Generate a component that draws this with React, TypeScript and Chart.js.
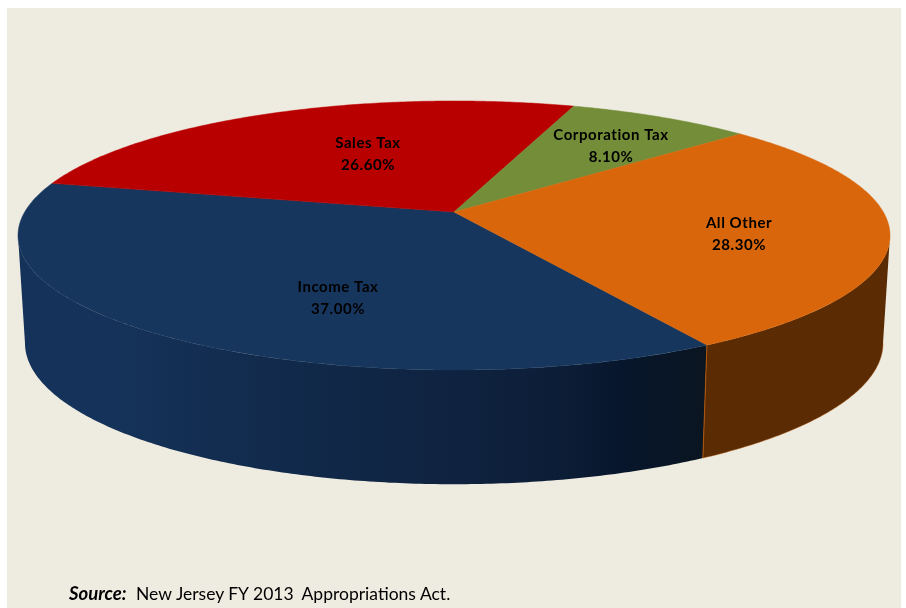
import React, { useEffect, useRef } from "react";
import { Chart, registerables } from "chart.js";

Chart.register(...registerables);

// Revenue shares, in percent
const categories = ["Income Tax", "Sales Tax", "Corporation Tax", "All Other"];
const shares = [37.0, 26.6, 8.1, 28.3];

const faceColors = ["#17365D", "#B90000", "#738D38", "#D9660A"];
const wallColors = ["#15335A", "#6E0000", "#46571F", "#5B2B03"];

// Where each two-line label is centred on the canvas
const labelCentres = [
  [338, 298],
  [368, 154],
  [611, 146],
  [739, 234],
];

const START_ROTATION = 150;
const PANEL = { left: 7, top: 8, right: 901, bottom: 608, color: "#EEEBE0" };

// Tilted disc: a unit circle projected with a simple perspective divide
const DISC = { cx: 454, cy: 212, a: 429.3, b: 130.4, p: 0.1747 };
// The lower rim sits a fixed drop below the face and narrows slightly
const RIM = { drop: 107.5, pivotY: 235.5, narrow: 0.984, stretch: 0.05 };

const TOP_POINT = (angle: number) => {
  const u = Math.cos(angle);
  const v = Math.sin(angle);
  const w = 1 - DISC.p * v;
  return [DISC.cx + (DISC.a * u) / w, DISC.cy + (DISC.b * v) / w];
};

const RIM_POINT = (angle: number) => {
  const [x, y] = TOP_POINT(angle);
  return [
    DISC.cx + (x - DISC.cx) * RIM.narrow,
    y + RIM.drop + (y - RIM.pivotY) * RIM.stretch,
  ];
};

const anglesBetween = (from: number, to: number) => {
  const steps = Math.max(2, Math.ceil((to - from) / 0.01));
  const list: number[] = [];
  for (let i = 0; i <= steps; i++) list.push(from + ((to - from) * i) / steps);
  return list;
};

const tiltedPie = {
  id: "tiltedPie",
  beforeDraw(chart: any) {
    const { ctx } = chart;
    ctx.save();
    ctx.fillStyle = PANEL.color;
    ctx.fillRect(PANEL.left, PANEL.top, PANEL.right - PANEL.left, PANEL.bottom - PANEL.top);
    ctx.restore();
  },
  // The arcs are painted here, using the angles the pie controller worked out
  beforeDatasetDraw(chart: any, args: any) {
    const { ctx } = chart;
    const arcs = args.meta.data;
    const wallFrom = (10 * Math.PI) / 180;
    const wallTo = (170 * Math.PI) / 180;

    const navyWall = ctx.createLinearGradient(25, 0, 705, 0);
    navyWall.addColorStop(0, "#15335A");
    navyWall.addColorStop(0.11, "#15335A");
    navyWall.addColorStop(0.4, "#11294A");
    navyWall.addColorStop(0.63, "#0F2340");
    navyWall.addColorStop(0.79, "#0C1D36");
    navyWall.addColorStop(0.88, "#07162C");
    navyWall.addColorStop(1, "#0A1520");

    ctx.save();
    arcs.forEach((arc: any, i: number) => {
      // Walls exist only along the near half of the rim
      const candidates = [
        [arc.startAngle, arc.endAngle],
        [arc.startAngle - 2 * Math.PI, arc.endAngle - 2 * Math.PI],
      ];
      candidates.forEach(([s, e]) => {
        const from = Math.max(s, wallFrom);
        const to = Math.min(e, wallTo);
        if (to <= from) return;
        const along = anglesBetween(from, to);
        ctx.beginPath();
        along.forEach((t, k) => {
          const [x, y] = TOP_POINT(t);
          if (k === 0) ctx.moveTo(x, y);
          else ctx.lineTo(x, y);
        });
        along
          .slice()
          .reverse()
          .forEach((t) => {
            const [x, y] = RIM_POINT(t);
            ctx.lineTo(x, y);
          });
        ctx.closePath();
        ctx.fillStyle = i === 0 ? navyWall : wallColors[i];
        ctx.fill();

        if (i === 3) {
          // Thin highlight where the orange wall meets the navy one and the floor
          ctx.beginPath();
          along.forEach((t, k) => {
            const [x, y] = RIM_POINT(t);
            if (k === 0) ctx.moveTo(x, y);
            else ctx.lineTo(x, y);
          });
          ctx.strokeStyle = "rgba(168,82,8,0.55)";
          ctx.lineWidth = 0.8;
          ctx.stroke();
          const [tx, ty] = TOP_POINT(to);
          const [bx, by] = RIM_POINT(to);
          ctx.beginPath();
          ctx.moveTo(tx, ty);
          ctx.lineTo(bx, by);
          ctx.strokeStyle = "#B0560A";
          ctx.lineWidth = 1;
          ctx.stroke();
        }
      });
    });

    arcs.forEach((arc: any, i: number) => {
      ctx.beginPath();
      ctx.moveTo(DISC.cx, DISC.cy);
      anglesBetween(arc.startAngle, arc.endAngle).forEach((t) => {
        const [x, y] = TOP_POINT(t);
        ctx.lineTo(x, y);
      });
      ctx.closePath();
      ctx.fillStyle = faceColors[i];
      ctx.strokeStyle = faceColors[i];
      ctx.lineWidth = 0.5;
      ctx.fill();
      ctx.stroke();
    });
    ctx.restore();
    return false;
  },
  afterDraw(chart: any) {
    const { ctx } = chart;
    ctx.save();
    ctx.fillStyle = "#000000";
    ctx.textAlign = "center";
    ctx.textBaseline = "middle";
    ctx.font = "bold 15px Lato, 'Open Sans', sans-serif";
    ctx.letterSpacing = "0.55px";
    categories.forEach((name, i) => {
      const [x, y] = labelCentres[i];
      ctx.fillText(name, x, y - 11);
      ctx.fillText(`${shares[i].toFixed(2)}%`, x, y + 11);
    });

    ctx.textAlign = "left";
    ctx.textBaseline = "alphabetic";
    ctx.letterSpacing = "0px";
    ctx.font = "italic bold 18.5px Lato, 'Open Sans', sans-serif";
    ctx.fillText("Source:", 69, 600);
    ctx.font = "17.5px Lato, 'Open Sans', sans-serif";
    ctx.wordSpacing = "-0.5px";
    ctx.fillText("New Jersey FY 2013  Appropriations Act.", 136, 600);
    ctx.restore();
  },
};

export default function App() {
  const canvasRef = useRef<HTMLCanvasElement | null>(null);

  useEffect(() => {
    const chart = new Chart(canvasRef.current as HTMLCanvasElement, {
      type: "pie",
      data: {
        labels: categories,
        datasets: [{ data: shares, backgroundColor: faceColors, borderWidth: 0 }],
      },
      options: {
        responsive: false,
        animation: false,
        rotation: START_ROTATION,
        plugins: { legend: { display: false }, tooltip: { enabled: false } },
      },
      plugins: [tiltedPie],
    } as any);
    return () => chart.destroy();
  }, []);

  return (
    <div style={{ position: "absolute", left: 0, top: 0, width: 906, height: 608 }}>
      <canvas ref={canvasRef} width={906} height={608} style={{ display: "block" }} />
    </div>
  );
}
